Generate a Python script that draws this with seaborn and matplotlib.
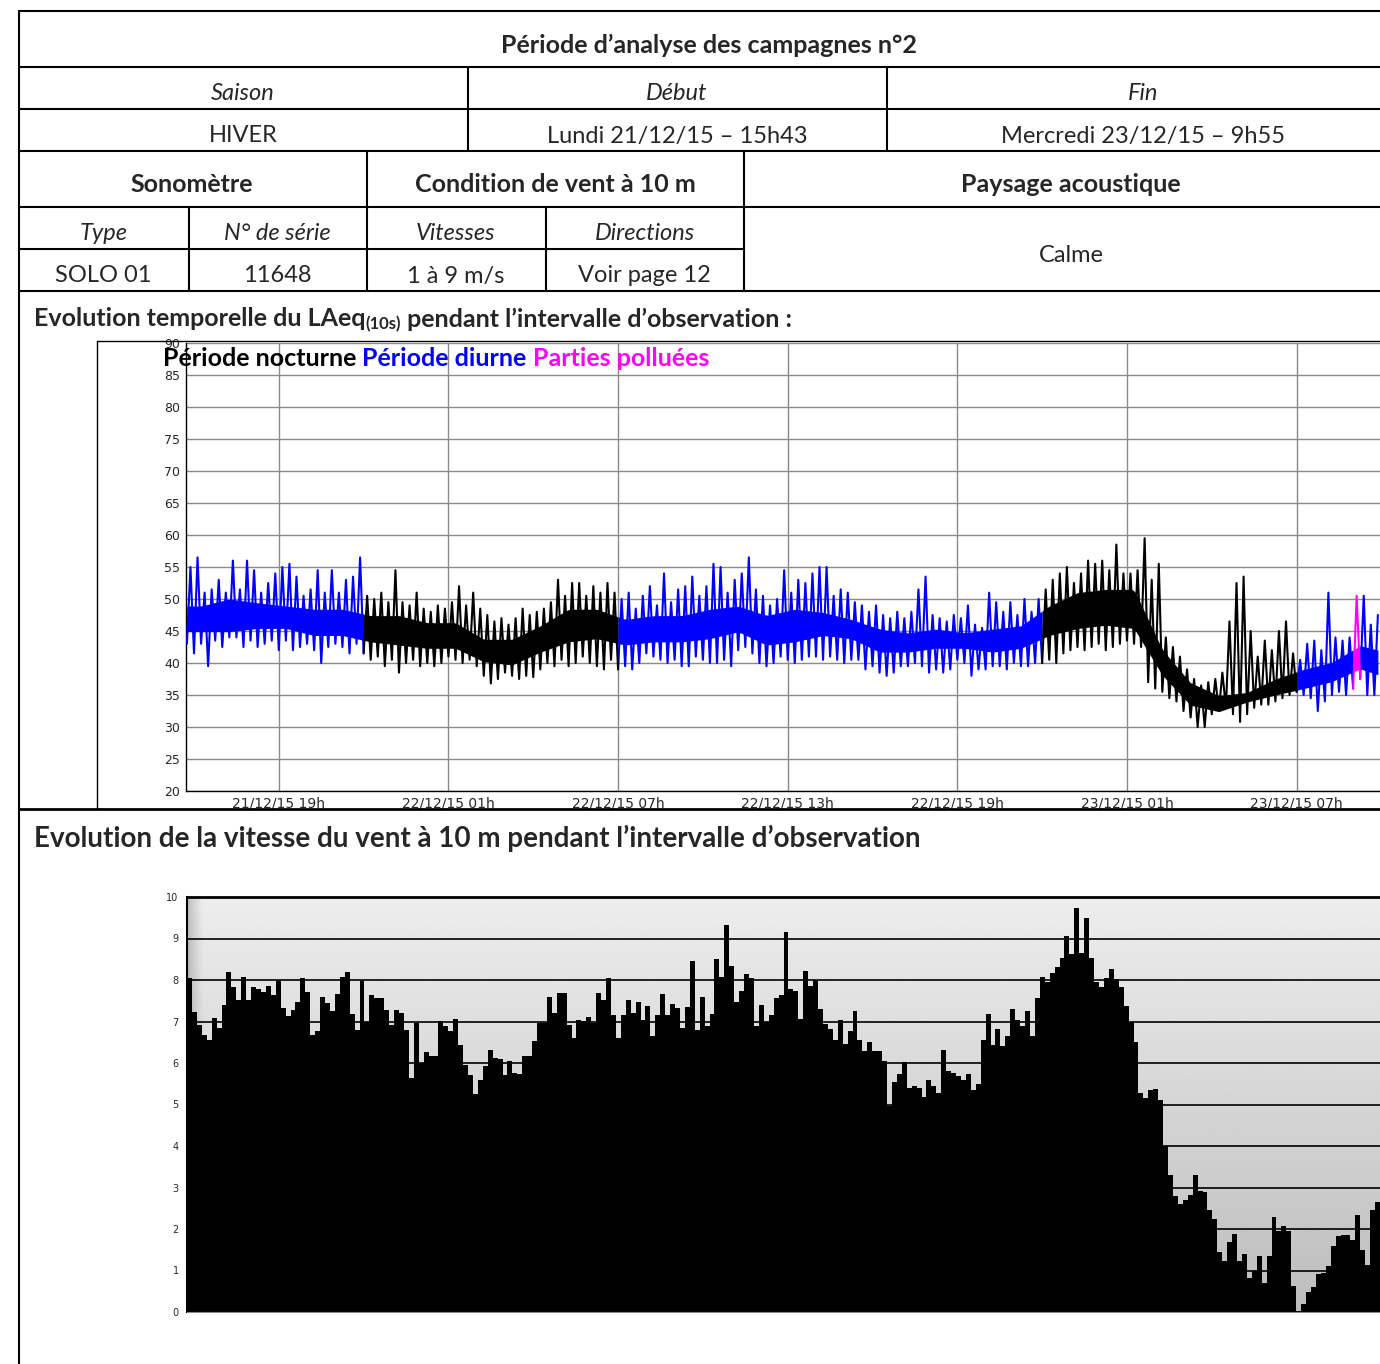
import numpy as np
import pandas as pd
import seaborn as sns
import matplotlib.pyplot as plt
from matplotlib.lines import Line2D

W, H = 1380, 1364

# === Données : LAeq(10s), enveloppe lue par pas de 15 min (dB(A)) ===
debut_h = 15.75      # heures depuis le 21/12/15 00h
pas_h = 0.25
laeq_haut = [
    # 21/12 jour
    55.0, 56.5, 51.0, 51.5, 53.0, 51.0, 56.0, 51.5, 56.0, 54.5, 51.0, 52.5, 54.0,
    55.0, 55.5, 53.5, 50.5, 51.5, 54.5, 51.0, 54.5, 51.0, 53.0, 53.5, 56.5,
    # nuit 21-22/12
    50.5, 50.0, 51.0, 49.5, 54.5, 49.5, 49.0, 51.0, 48.5, 48.0, 49.0, 48.5, 49.5,
    52.0, 49.0, 51.0, 48.5, 47.5, 46.5, 47.0, 46.0, 47.0, 48.5, 47.5, 48.0, 48.5,
    49.5, 53.0, 50.5, 52.5, 52.5, 50.5, 52.0, 51.0, 52.5, 51.0,
    # 22/12 jour
    50.0, 51.0, 48.5, 50.5, 52.0, 49.0, 54.0, 49.5, 51.5, 52.0, 53.5, 50.5, 52.0,
    55.5, 55.0, 51.0, 53.0, 54.0, 56.5, 51.5, 50.5, 49.0, 50.0, 54.5, 51.0, 53.0,
    52.5, 54.0, 55.0, 55.0, 50.5, 51.5, 51.0, 49.5, 49.0, 48.0, 49.0, 47.5, 47.0,
    48.0, 47.0, 48.0, 51.5, 53.5, 47.5, 47.0, 46.5, 47.5, 47.0, 49.0, 46.0, 45.5,
    51.0, 49.5, 48.0, 49.5, 47.5, 50.0, 48.0, 50.0,
    # nuit 22-23/12
    51.5, 53.0, 54.0, 55.0, 52.5, 54.0, 56.0, 55.5, 56.0, 54.5, 58.5, 54.0, 54.0,
    54.5, 59.5, 53.0, 55.5, 44.0, 42.5, 41.0, 39.0, 37.5, 36.5, 37.0, 37.5, 38.5,
    46.5, 52.5, 53.5, 45.0, 41.0, 43.5, 42.0, 45.0, 46.5, 41.5,
    # 23/12 jour
    40.5, 43.0, 43.5, 42.0, 51.0, 44.0, 43.5, 44.0, 50.5, 50.5, 46.0, 47.5,
]
laeq_bas = [
    43.0, 41.5, 43.0, 39.5, 43.5, 42.5, 44.0, 44.0, 42.5, 43.5, 42.5, 43.0, 43.5,
    42.0, 43.5, 42.0, 42.5, 43.0, 42.0, 40.0, 42.5, 43.0, 42.5, 41.5, 43.0,
    41.5, 40.5, 41.0, 39.5, 40.5, 38.5, 40.0, 40.5, 39.5, 40.0, 39.5, 40.0, 41.0,
    40.5, 40.0, 40.5, 39.5, 38.0, 36.8, 37.5, 38.5, 38.0, 37.5, 38.0, 37.8, 39.0,
    40.0, 39.5, 40.5, 39.5, 40.0, 41.0, 40.0, 39.5, 39.0, 40.5,
    39.0, 39.5, 39.0, 40.0, 41.5, 41.0, 40.5, 40.0, 40.5, 39.5, 39.5, 41.0, 40.5,
    40.0, 40.0, 40.5, 39.5, 42.0, 42.5, 41.5, 40.0, 39.5, 40.0, 41.0, 40.5, 40.0,
    40.5, 41.0, 41.0, 40.5, 41.0, 40.5, 40.0, 40.5, 40.5, 39.0, 39.5, 38.5, 38.0,
    38.5, 39.5, 39.5, 40.0, 39.5, 38.5, 39.0, 38.5, 39.0, 40.5, 40.0, 38.0, 39.0,
    39.0, 39.5, 39.5, 39.0, 40.0, 39.5, 39.5, 40.0,
    40.0, 40.5, 40.0, 41.5, 42.0, 42.5, 42.0, 42.5, 43.0, 42.0, 42.5, 43.0, 43.5,
    43.0, 42.5, 37.0, 36.0, 35.5, 34.5, 34.0, 32.5, 31.5, 30.0, 30.0, 32.0, 32.5,
    33.0, 32.0, 30.8, 32.0, 33.0, 33.5, 33.5, 34.0, 34.5, 35.0,
    35.5, 35.0, 34.5, 32.5, 34.0, 35.0, 35.5, 35.0, 36.0, 37.5, 35.0, 35.0,
]
# zone la plus dense du signal, lue heure par heure (centres à 16h15, 17h15, ...)
coeur_t0 = 16.25
coeur_haut = [48.9, 50.0, 49.4, 48.9, 48.4, 48.4, 47.4, 47.4, 46.3, 46.3, 43.7,
              43.7, 45.8, 48.4, 48.4, 46.8, 47.4, 47.4, 48.4, 48.9, 47.4, 48.4,
              47.9, 46.8, 45.3, 44.7, 45.3, 44.7, 45.3, 45.8, 48.9, 51.0, 51.5,
              51.5, 42.1, 36.9, 34.9, 35.4, 37.5, 39.0, 40.1, 42.7, 41.6]
coeur_bas = [44.9, 44.9, 45.4, 45.4, 44.3, 44.3, 43.3, 42.8, 42.3, 42.3, 40.2,
             39.7, 41.7, 43.3, 43.8, 42.8, 43.3, 43.3, 43.8, 44.9, 42.8, 43.3,
             44.3, 43.8, 41.7, 41.7, 42.3, 42.3, 41.7, 42.3, 44.3, 45.4, 45.9,
             45.4, 38.1, 33.4, 32.4, 33.9, 35.0, 36.0, 37.1, 39.1, 37.6]
pollue_debut, pollue_fin = 57.0, 57.25

x_ticks = [19, 25, 31, 37, 43, 49, 55]
x_labels = ["21/12/15 19h", "22/12/15 01h", "22/12/15 07h", "22/12/15 13h",
            "22/12/15 19h", "23/12/15 01h", "23/12/15 07h"]

# === Données : vitesse du vent à 10 m (m/s) ===
vent = [
    8.06, 7.24, 6.92, 6.68, 6.56, 7.08, 6.84, 7.4, 8.2, 7.84,
    7.52, 8.08, 7.52, 7.82, 7.78, 7.72, 7.86, 7.64, 7.98, 7.32,
    7.14, 7.28, 7.46, 8.06, 7.72, 6.68, 6.76, 7.6, 7.44, 7.26,
    7.66, 8.08, 8.2, 7.18, 6.8, 7.98, 7.0, 7.64, 7.56, 7.56,
    7.28, 6.92, 7.28, 7.2, 6.8, 5.64, 6.96, 6.0, 6.26, 6.16,
    6.16, 7.02, 6.88, 6.76, 7.06, 6.44, 5.96, 5.72, 5.26, 5.6,
    5.92, 6.32, 6.12, 6.1, 5.7, 6.06, 5.76, 5.74, 6.16, 6.16,
    6.52, 6.96, 6.96, 7.6, 7.2, 7.68, 7.68, 6.92, 6.6,
    7.04, 7.02, 7.12, 6.96, 7.68, 7.52, 8.04, 7.16, 6.6, 7.16,
    7.52, 7.2, 7.48, 7.04, 7.38, 6.66, 7.16, 7.66, 7.16, 7.42,
    7.32, 6.84, 7.34, 8.46, 6.8, 7.6, 6.88, 7.18, 8.5,
    8.08, 9.32, 8.34, 7.48, 7.74, 8.14, 8.06, 6.88, 7.4, 6.98,
    7.16, 7.56, 7.64, 9.16, 7.78, 7.74, 7.06, 8.22, 7.86, 8.0,
    7.3, 6.94, 6.82, 6.56, 7.04, 6.46, 6.76, 7.26, 6.56, 6.3,
    6.5, 6.3, 6.28, 6.04, 4.96, 5.54, 5.74, 6.02, 5.4, 5.44,
    5.4, 5.18, 5.58, 5.44, 5.28, 6.32, 5.8, 5.76, 5.68, 5.6,
    5.74, 5.34, 5.5, 6.56, 7.18,
    6.44, 6.82, 6.4, 6.66, 7.3, 7.04, 6.88, 7.26, 6.64, 7.56,
    8.08, 7.94, 8.16, 8.32, 8.54, 9.06, 8.62, 9.74, 8.64, 9.5,
    8.54, 7.96, 7.82, 8.06, 8.26, 8.02, 7.82, 7.38, 6.98, 6.5,
    5.28, 5.16, 5.36, 5.38, 5.1, 4.0, 3.3, 2.8, 2.6, 2.7,
    2.82, 3.3, 2.92, 2.9, 2.46, 2.24, 1.44, 1.24, 1.68, 1.88,
    1.24, 1.4, 0.82, 1.0, 1.36, 0.7, 1.36, 2.3, 1.94, 2.08,
    1.96, 0.62, 0.02, 0.2, 0.48, 0.6, 0.92, 0.94, 1.1, 1.58,
    1.82, 1.86, 1.86, 1.74, 2.34, 1.5, 1.14, 2.46, 2.66,
]

# === Mise en page ===
sns.set_style("white")
plt.rcParams['font.family'] = ['Lato', 'DejaVu Sans']
fig = plt.figure(figsize=(W / 100, H / 100), dpi=100)


def fx(x): return x / W
def fy(y): return 1 - y / H


def hline(y, x0, x1, lw=1.5):
    fig.add_artist(Line2D([fx(x0), fx(x1)], [fy(y), fy(y)], color="black", lw=lw))


def vline(x, y0, y1, lw=1.5):
    fig.add_artist(Line2D([fx(x), fx(x)], [fy(y0), fy(y1)], color="black", lw=lw))


def txt(x, y, s, size=17, **kw):
    kw.setdefault("ha", "center")
    return fig.text(fx(x), fy(y), s, fontsize=size, va="center", **kw)


def add_ax(x0, y0, x1, y1):
    return fig.add_axes([fx(x0), fy(y1), (x1 - x0) / W, (y1 - y0) / H])


# tableau
for y in [11, 67, 109, 151, 207, 291]:
    hline(y, 19, 1380)
hline(249, 19, 744)
hline(809, 19, 1380, lw=2)
vline(19, 11, 1364)
for x in [468, 887]:
    vline(x, 67, 151)
for x in [367, 744]:
    vline(x, 151, 291)
for x in [189, 546]:
    vline(x, 207, 291)

B = dict(weight="bold", size=18)
txt(709, 45, "Période d’analyse des campagnes n°2", **B)
txt(243, 94, "Saison", style="italic")
txt(677, 94, "Début", style="italic")
txt(1143, 94, "Fin", style="italic")
txt(243, 136, "HIVER")
txt(677, 136, "Lundi 21/12/15 – 15h43")
txt(1143, 136, "Mercredi 23/12/15 – 9h55")
txt(192, 185, "Sonomètre", **B)
txt(555, 185, "Condition de vent à 10 m", **B)
txt(1071, 185, "Paysage acoustique", **B)
txt(104, 234, "Type", style="italic")
txt(277, 234, "N° de série", style="italic")
txt(456, 234, "Vitesses", style="italic")
txt(645, 234, "Directions", style="italic")
txt(103, 276, "SOLO 01")
txt(277, 276, "11648")
txt(456, 276, "1 à 9 m/s")
txt(644, 276, "Voir page 12")
txt(1071, 256, "Calme")

rend = fig.canvas.get_renderer()


def chain(x, y, pieces):
    for s, kw in pieces:
        dy = kw.pop("dy", 0)
        t = txt(x, y + dy, s, ha="left", **kw)
        x += t.get_window_extent(rend).width


chain(34, 319, [("Evolution temporelle du LAeq", dict(B)),
                ("(10s)", dict(weight="bold", size=12, dy=5)),
                (" pendant l’intervalle d’observation :", dict(B))])
txt(34, 838, "Evolution de la vitesse du vent à 10 m pendant l’intervalle d’observation",
    size=20, weight="bold", ha="left")

# cadre du graphique LAeq
vline(97, 341, 809, lw=1)
hline(341, 97, 1380, lw=1)

# === Graphique LAeq ===
rows = []
seg, prev = 0, None
for i, (lo, hi) in enumerate(zip(laeq_bas, laeq_haut)):
    t = debut_h + i * pas_h
    if pollue_debut <= t < pollue_fin:
        per = "pollue"
    elif 7 <= t % 24 < 22:
        per = "diurne"
    else:
        per = "nocturne"
    if prev is not None and per != prev:
        rows.append((t, lo, prev, seg))
        seg += 1
    rows.append((t, lo, per, seg))
    rows.append((t + pas_h / 2, hi, per, seg))
    prev = per
df = pd.DataFrame(rows, columns=["t", "db", "periode", "seg"])
couleurs = {"nocturne": "black", "diurne": "#0000ff", "pollue": "#ff00ff"}

ax1 = add_ax(186, 343, 1380, 791)
coeur_t = coeur_t0 + np.arange(len(coeur_haut))
for (s, per), g in df.groupby(["seg", "periode"]):
    tt = np.linspace(g.t.min(), g.t.max(), 80)
    ax1.fill_between(tt, np.interp(tt, coeur_t, coeur_bas), np.interp(tt, coeur_t, coeur_haut),
                     color=couleurs[per], lw=0, zorder=2)
sns.lineplot(data=df, x="t", y="db", hue="periode", units="seg", estimator=None,
             sort=False, palette=couleurs, linewidth=1.5, legend=False, ax=ax1, zorder=3)
ax1.set_xlim(15.717, 57.95)
ax1.set_ylim(20, 90)
ax1.set_yticks(range(20, 91, 5))
ax1.set_xticks(x_ticks)
ax1.set_xticklabels(x_labels)
ax1.grid(True, color="#8a8a8a", lw=1)
ax1.set_axisbelow(True)
ax1.set_xlabel("")
ax1.set_ylabel("")
for s in ["top", "right"]:
    ax1.spines[s].set_visible(False)
for s in ["left", "bottom"]:
    ax1.spines[s].set_color("black")
    ax1.spines[s].set_linewidth(1)
ax1.tick_params(axis="both", length=3, width=0.8, color="black", pad=1)
ax1.tick_params(axis="y", labelsize=9)
ax1.tick_params(axis="x", labelsize=10)
for lab in ax1.get_xticklabels() + ax1.get_yticklabels():
    lab.set_family("DejaVu Sans")

chain(163, 358, [("Période nocturne ", dict(B, color="black")),
                 ("Période diurne ", dict(B, color="#0000ff")),
                 ("Parties polluées", dict(B, color="#ff00ff"))])

# === Graphique vent ===
N = len(vent)
dv = pd.DataFrame({"i": np.arange(N), "v": vent})
ax2 = add_ax(187, 897, 1380, 1312)
sns.barplot(data=dv, x="i", y="v", color="black", width=1.0, linewidth=0,
            saturation=1, ax=ax2)
grad = np.linspace(0.93, 0.74, 256)[:, None] * np.ones((1, 400))
edge = np.clip(np.linspace(0, 1, 400) / 0.012, 0, 1)
grad = grad * (0.82 + 0.18 * edge)
ax2.imshow(grad, cmap="gray", vmin=0, vmax=1, extent=(-0.5, N - 0.5, 0, 10),
           aspect="auto", zorder=0)
ax2.set_xlim(-0.5, N - 0.5)
ax2.set_ylim(0, 10)
ax2.set_yticks(range(0, 11))
ax2.set_xticks([])
ax2.set_xlabel("")
ax2.set_ylabel("")
ax2.yaxis.grid(True, color="black", lw=1.2)
ax2.set_axisbelow(True)
ax2.spines["right"].set_visible(False)
ax2.spines["top"].set_color("black")
ax2.spines["top"].set_linewidth(2)
ax2.spines["left"].set_color("black")
ax2.spines["left"].set_linewidth(1.5)
ax2.spines["bottom"].set_color("#8a8a8a")
ax2.tick_params(axis="y", length=0, labelsize=7, pad=6)
for lab in ax2.get_yticklabels():
    lab.set_family("DejaVu Sans")

fig.savefig("out.png", dpi=100)
